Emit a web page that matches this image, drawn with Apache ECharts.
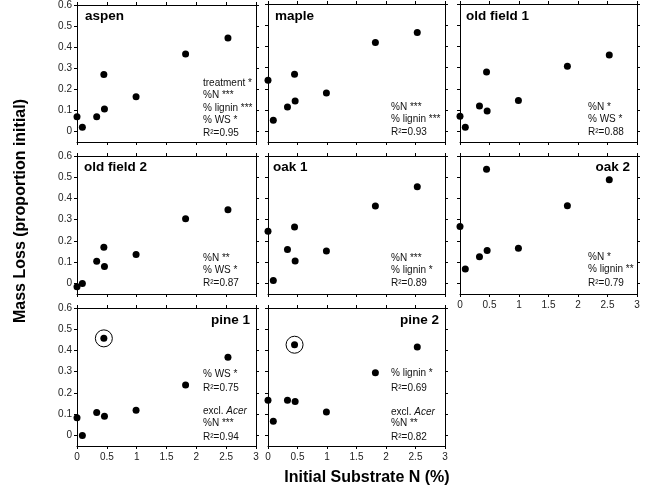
<!DOCTYPE html>
<html>
<head>
<meta charset="utf-8">
<script src="https://cdn.jsdelivr.net/npm/echarts@6/dist/echarts.min.js"></script>
<style>
html,body{margin:0;padding:0;background:#fff;}
#chart{width:646px;height:492px;}
</style>
</head>
<body>
<div id="chart"></div>
<script>
// ---- data ----
const substrateN = [0, 0.09, 0.33, 0.45, 0.46, 0.99, 1.82, 2.53];
const panelNames = ['aspen', 'maple', 'old field 1', 'old field 2', 'oak 1', 'oak 2', 'pine 1', 'pine 2'];
const aspen     = [0.070, 0.020, 0.070, 0.270, 0.107, 0.165, 0.367, 0.444];
const maple     = [0.241, 0.052, 0.115, 0.269, 0.143, 0.181, 0.419, 0.466];
const oldField1 = [0.071, 0.020, 0.120, 0.280, 0.096, 0.146, 0.307, 0.360];
const oldField2 = [-0.016, 0.000, 0.104, 0.170, 0.080, 0.136, 0.305, 0.347];
const oak1      = [0.245, 0.013, 0.160, 0.265, 0.106, 0.152, 0.365, 0.455];
const oak2      = [0.268, 0.068, 0.126, 0.538, 0.155, 0.166, 0.366, 0.488];
const pine1     = [0.083, 0.000, 0.108, 0.457, 0.090, 0.118, 0.237, 0.368];
const pine2     = [0.165, 0.067, 0.165, 0.427, 0.160, 0.110, 0.295, 0.416];
const circledIndex = 3; // Acer point, circled in pine panels
const yTicks = [0, 0.1, 0.2, 0.3, 0.4, 0.5, 0.6];
const xTicks = [0, 0.5, 1, 1.5, 2, 2.5, 3];
const panelStats = [
  ['treatment *', '%N ***', '% lignin ***', '% WS *', 'R²=0.95'],
  ['%N ***', '% lignin ***', 'R²=0.93'],
  ['%N *', '% WS *', 'R²=0.88'],
  ['%N **', '% WS *', 'R²=0.87'],
  ['%N ***', '% lignin *', 'R²=0.89'],
  ['%N *', '% lignin **', 'R²=0.79'],
  ['% WS *', 'R²=0.75', 'excl. {i|Acer}', '%N ***', 'R²=0.94'],
  ['% lignin *', 'R²=0.69', 'excl. {i|Acer}', '%N **', 'R²=0.82']
];
const panelValues = [aspen, maple, oldField1, oldField2, oak1, oak2, pine1, pine2];

// ---- layout ----
const FONT = '"Liberation Sans", Arial, Helvetica, sans-serif';
const colLeft = [77, 268, 460];
const colW = [179, 177, 177];
const rowTop = [4, 156, 308];
const panelH = 138;
const statX = [203, 391, 588];
const statY = [
  [83, 95.5, 108, 120.5, 133],
  [107, 119.5, 132],
  [107, 119.5, 132],
  [258, 270, 283.5],
  [258, 270, 283.5],
  [257.5, 269.5, 283],
  [374, 388.5, 411.5, 423.5, 437.5],
  [373.5, 388.5, 412, 423.5, 437.5]
];
const titlePos = [
  {x: 85, y: 16, align: 'left'},
  {x: 275, y: 16, align: 'left'},
  {x: 466, y: 16, align: 'left'},
  {x: 84, y: 167, align: 'left'},
  {x: 273, y: 167, align: 'left'},
  {x: 630, y: 167, align: 'right'},
  {x: 250, y: 320, align: 'right'},
  {x: 439, y: 320, align: 'right'}
];
const xLabelPanels = [5, 6, 7];

const grids = [], xAxes = [], yAxes = [], series = [], graphics = [];
const lineStyle = {color: '#000', width: 1};
const tickStyle = {show: true, inside: false, length: 3, lineStyle: {color: '#000', width: 1}};

panelValues.forEach((vals, p) => {
  const r = Math.floor(p / 3), c = p % 3;
  grids.push({left: colLeft[c], top: rowTop[r], width: colW[c], height: panelH});
  const showX = xLabelPanels.indexOf(p) >= 0;
  xAxes.push({
    type: 'value', gridIndex: p, position: 'bottom', min: 0, max: 3, interval: 0.5,
    axisLine: {show: true, onZero: false, lineStyle},
    axisTick: tickStyle, splitLine: {show: false},
    axisLabel: {show: showX, color: '#222', fontSize: 10, fontFamily: FONT, margin: 6}
  });
  xAxes.push({
    type: 'value', gridIndex: p, position: 'top', min: 0, max: 3, interval: 0.5,
    axisLine: {show: true, onZero: false, lineStyle},
    axisTick: tickStyle, splitLine: {show: false}, axisLabel: {show: false}
  });
  yAxes.push({
    type: 'value', gridIndex: p, position: 'left', min: -0.05, max: 0.6,
    axisLine: {show: true, onZero: false, lineStyle},
    axisTick: Object.assign({}, tickStyle, {customValues: yTicks}),
    splitLine: {show: false},
    axisLabel: {show: c === 0, customValues: yTicks, color: '#222', fontSize: 10, fontFamily: FONT, margin: 5,
      formatter: v => String(Math.round(v * 10) / 10)}
  });
  yAxes.push({
    type: 'value', gridIndex: p, position: 'right', min: -0.05, max: 0.6,
    axisLine: {show: true, onZero: false, lineStyle},
    axisTick: Object.assign({}, tickStyle, {customValues: yTicks}),
    splitLine: {show: false}, axisLabel: {show: false}
  });
  series.push({
    type: 'scatter', xAxisIndex: 2 * p, yAxisIndex: 2 * p, clip: false,
    symbol: 'circle', symbolSize: 7, itemStyle: {color: '#000', opacity: 1},
    data: vals.map((v, i) => [substrateN[i], v]), silent: true, z: 3
  });
  if (p >= 6) {
    series.push({
      type: 'scatter', xAxisIndex: 2 * p, yAxisIndex: 2 * p, clip: false,
      symbol: 'circle', symbolSize: 17,
      itemStyle: {color: 'rgba(0,0,0,0)', borderColor: '#000', borderWidth: 1, opacity: 1},
      data: [[substrateN[circledIndex], vals[circledIndex]]], silent: true, z: 2
    });
  }
  // panel title
  graphics.push({
    type: 'text', x: titlePos[p].x, y: titlePos[p].y,
    style: {text: panelNames[p], font: 'bold 13.5px ' + FONT, fill: '#000',
      textAlign: titlePos[p].align, textVerticalAlign: 'middle'}
  });
  panelStats[p].forEach((t, k) => {
    graphics.push({
      type: 'text', x: statX[c], y: statY[p][k],
      style: {text: t, font: '10px ' + FONT, fill: '#111', textAlign: 'left', textVerticalAlign: 'middle',
        rich: {i: {fontStyle: 'italic', fontSize: 10, fontFamily: FONT, fill: '#111'}}}
    });
  });
});

graphics.push({
  type: 'text', x: 21, y: 211, rotation: Math.PI / 2,
  style: {text: 'Mass Loss (proportion initial)', font: 'bold 16px ' + FONT, fill: '#000',
    textAlign: 'center', textVerticalAlign: 'middle'}
});
graphics.push({
  type: 'text', x: 367, y: 478,
  style: {text: 'Initial Substrate N (%)', font: 'bold 16px ' + FONT, fill: '#000',
    textAlign: 'center', textVerticalAlign: 'middle'}
});

const chart = echarts.init(document.getElementById('chart'), null, {renderer: 'canvas'});
chart.setOption({
  animation: false,
  backgroundColor: '#fff',
  grid: grids, xAxis: xAxes, yAxis: yAxes, series: series, graphic: graphics
});
</script>
</body>
</html>
